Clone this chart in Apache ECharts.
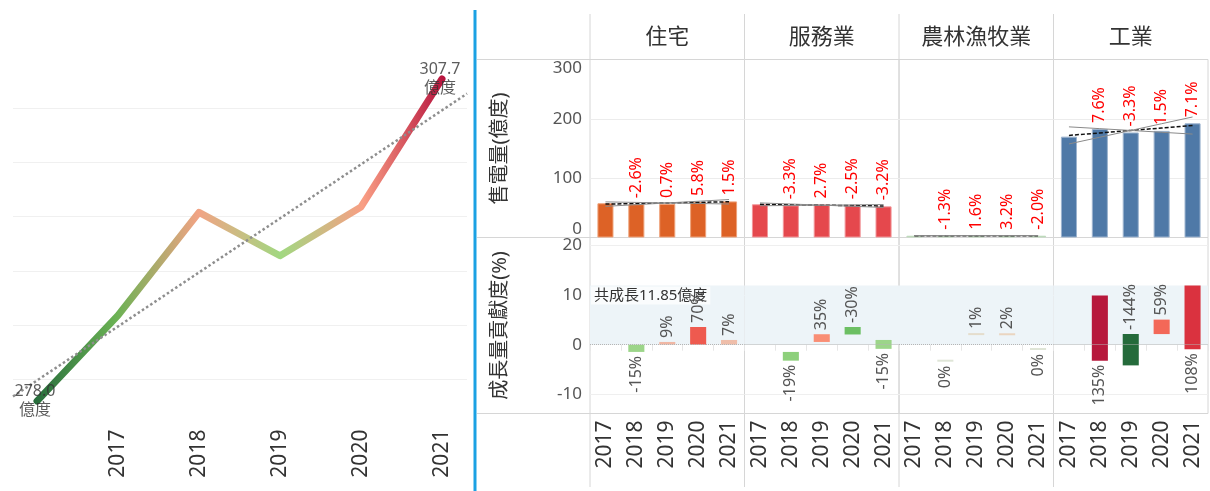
<!DOCTYPE html>
<html><head><meta charset="utf-8">
<script src="https://cdn.jsdelivr.net/npm/echarts@6/dist/echarts.min.js"></script>
<style>html,body{margin:0;padding:0;background:#fff}#c{width:1210px;height:491px}</style>
</head><body><div id="c"></div>
<script>
// ---------------- DATA ----------------
const lineYears = ['2016', '2017', '2018', '2019', '2020', '2021'];
const totalSales = [278.0, 285.9, 295.4, 291.4, 295.9, 307.7];

const sectors = ['住宅', '服務業', '農林漁牧業', '工業'];
const panelYears = ['2017', '2018', '2019', '2020', '2021'];

const residentialSales = [57.7, 56.2, 56.6, 59.9, 60.8];
const serviceSales = [56.0, 54.2, 55.6, 54.2, 52.5];
const farmSales = [3.0, 2.96, 3.01, 3.10, 3.04];
const industrySales = [170.0, 182.9, 177.0, 179.7, 192.4];

const residentialGrowth = [null, -2.6, 0.7, 5.8, 1.5];
const serviceGrowth = [null, -3.3, 2.7, -2.5, -3.2];
const farmGrowth = [null, -1.3, 1.6, 3.2, -2.0];
const industryGrowth = [null, 7.6, -3.3, 1.5, 7.1];

// growth amount (億度) of each sector, years 2018-2021
const residentialDelta = [-1.45, 0.55, 3.55, 0.95];
const serviceDelta = [-1.75, 1.55, -1.5, -1.78];
const farmDelta = [-0.02, 0.05, 0.08, -0.06];
const industryDelta = [13.1, -6.3, 2.9, 12.74];

// contribution labels (%)
const residentialPct = [-15, 9, 70, 7];
const servicePct = [-19, 35, -30, -15];
const farmPct = [0, 1, 2, 0];
const industryPct = [135, -144, 59, 108];

const totalGrowth = 11.85;

const salesTicks = [0, 100, 200, 300];
const lineTicks = [275, 280, 285, 290, 295, 300, 305, 310];

// ---------------- STYLE ----------------
const FONT = "'Noto Sans', 'Noto Sans CJK TC', sans-serif";
const sectorColors = ['#dd6226', '#e5484d', '#8cc08a', '#4f79a7'];
const sectorBorders = ['#eea27a', '#f2969a', '#c2dcc0', '#9db4cf'];
const lineColors = ['#256b3b', '#6bb254', '#f2a384', '#a1d881', '#f99e84', '#b5103c'];
const pctStops = [[-144, '#256b3b'], [-30, '#6cbf63'], [-17, '#93d37f'], [0, '#dfe5d7'], [2, '#ead5c0'],
  [8, '#f0b9a6'], [35, '#f98e75'], [65, '#f15f51'], [108, '#da323f'], [135, '#b7183c']];
const contribLabelSide = [
  ['below', 'above', 'above', 'above'],
  ['below', 'above', 'above', 'below'],
  ['below', 'above', 'above', 'below'],
  ['below', 'above', 'above', 'below']
];
const PANEL_L = 590, PANEL_W = 154.5, TOP_Y = 59.5, TOP_H = 178, BOT_Y = 237.5, BOT_H = 176;

const sectorSales = [residentialSales, serviceSales, farmSales, industrySales];
const sectorGrowth = [residentialGrowth, serviceGrowth, farmGrowth, industryGrowth];
const sectorDelta = [residentialDelta, serviceDelta, farmDelta, industryDelta];
const sectorPct = [residentialPct, servicePct, farmPct, industryPct];

function hex(c) { return [1, 3, 5].map(i => parseInt(c.substr(i, 2), 16)); }
function pctColor(p) {
  if (p <= pctStops[0][0]) return pctStops[0][1];
  for (let i = 1; i < pctStops.length; i++) {
    if (p <= pctStops[i][0]) {
      const [a, ca] = pctStops[i - 1], [b, cb] = pctStops[i];
      const t = (p - a) / (b - a), A = hex(ca), B = hex(cb);
      return 'rgb(' + A.map((v, k) => Math.round(v + (B[k] - v) * t)).join(',') + ')';
    }
  }
  return pctStops[pctStops.length - 1][1];
}
function regress(ys) {
  const n = ys.length, mx = (n - 1) / 2, my = ys.reduce((s, v) => s + v, 0) / n;
  let sxy = 0, sxx = 0;
  ys.forEach((y, i) => { sxy += (i - mx) * (y - my); sxx += (i - mx) * (i - mx); });
  const b = sxy / sxx;
  let ss = 0; ys.forEach((y, i) => { const r = y - (my + b * (i - mx)); ss += r * r; });
  const se = Math.sqrt(ss / (n - 2) / sxx);
  return { mx, my, b, se };
}

// ---------------- OPTION ----------------
const grids = [
  { left: 13, top: 54, width: 454, height: 379.6 },
  { left: 37, top: 54, width: 405, height: 379.6 }
];
const xAxes = [
  { gridIndex: 0, type: 'value', min: -0.3, max: 5.3, show: false },
  { gridIndex: 1, type: 'category', data: lineYears, boundaryGap: false,
    axisLine: { show: false }, axisTick: { show: false },
    axisLabel: { rotate: 90, fontSize: 21, color: '#333', margin: -4, fontFamily: FONT,
      interval: (i) => i > 0 } }
];
const yAxes = [
  { gridIndex: 0, type: 'value', min: lineTicks[0], max: lineTicks[lineTicks.length - 1],
    interval: lineTicks[1] - lineTicks[0],
    axisLabel: { show: false }, axisLine: { show: false }, axisTick: { show: false },
    splitLine: { show: true, showMinLine: false, showMaxLine: false, lineStyle: { color: '#f0f0f0' } } },
  { gridIndex: 1, type: 'value', min: lineTicks[0], max: lineTicks[lineTicks.length - 1],
    interval: lineTicks[1] - lineTicks[0], show: false, splitLine: { show: false } }
];

const lreg = regress(totalSales);
const series = [
  { type: 'line', xAxisIndex: 0, yAxisIndex: 0, silent: true, symbol: 'none', z: 4,
    lineStyle: { color: '#8e8e8e', width: 2.5, type: 'dotted' },
    data: [-0.3, 5.3].map(x => [x, lreg.my + lreg.b * (x - lreg.mx)]) },
  { type: 'line', xAxisIndex: 1, yAxisIndex: 1, symbol: 'none', z: 3,
    lineStyle: { width: 7, cap: 'round', join: 'round',
      color: { type: 'linear', x: 0, y: 0, x2: 1, y2: 0,
        colorStops: lineColors.map((c, i) => ({ offset: i / (lineColors.length - 1), color: c })) } },
    data: totalSales },
  { type: 'scatter', xAxisIndex: 1, yAxisIndex: 1, symbolSize: 1, z: 5,
    itemStyle: { color: 'transparent' },
    label: { show: true, position: 'inside', color: '#333', fontSize: 16, lineHeight: 19, fontFamily: FONT,
      offset: [-2, 0],
      formatter: p => p.value[1].toFixed(1) + '\n億度' },
    data: [[0, totalSales[0]], [totalSales.length - 1, totalSales[totalSales.length - 1]]] }
];

sectors.forEach((name, i) => {
  const left = PANEL_L + i * PANEL_W;
  grids.push({ left, top: TOP_Y, width: PANEL_W, height: TOP_H, show: true, borderColor: '#d6d6d6', borderWidth: 1 });
});
sectors.forEach((name, i) => {
  const left = PANEL_L + i * PANEL_W;
  grids.push({ left, top: BOT_Y, width: PANEL_W, height: BOT_H, show: true, borderColor: '#d6d6d6', borderWidth: 1 });
});

sectors.forEach((name, i) => {
  const gi = 2 + i;
  xAxes.push({ gridIndex: gi, type: 'category', data: panelYears, position: 'top',
    axisLine: { show: false }, axisTick: { show: false }, axisLabel: { show: false },
    name, nameLocation: 'middle', nameGap: 11,
    nameTextStyle: { fontSize: 22, color: '#333', fontFamily: FONT } });
  yAxes.push({ gridIndex: gi, type: 'value', min: salesTicks[0], max: salesTicks[salesTicks.length - 1],
    interval: salesTicks[1] - salesTicks[0],
    axisLine: { show: false }, axisTick: { show: false },
    axisLabel: { show: i === 0, fontSize: 17, color: '#555', margin: 8, fontFamily: FONT,
      verticalAlignMinLabel: 'bottom', verticalAlignMaxLabel: 'top' },
    splitLine: { show: true, showMinLine: false, showMaxLine: false, lineStyle: { color: '#ececec' } },
    name: i === 0 ? '售電量(億度)' : '', nameLocation: 'middle', nameGap: 80,
    nameTextStyle: { fontSize: 20, color: '#333', fontFamily: FONT } });

  const growth = sectorGrowth[i];
  series.push({ type: 'bar', xAxisIndex: gi, yAxisIndex: gi, barWidth: '52%', silent: true,
    itemStyle: { color: sectorColors[i], borderColor: sectorBorders[i], borderWidth: 1 },
    label: { show: true, position: 'top', rotate: 90, align: 'left', verticalAlign: 'middle', distance: 6,
      color: '#ff0000', fontSize: 16, fontFamily: FONT,
      formatter: p => growth[p.dataIndex] == null ? '' : growth[p.dataIndex].toFixed(1) + '%' },
    data: sectorSales[i] });

  const r = regress(sectorSales[i]);
  const t = 4.0;
  [[r.b, '#111', [4, 2], 1.5], [r.b + t * r.se, '#8a8a8a', 'solid', 1], [r.b - t * r.se, '#8a8a8a', 'solid', 1]]
    .forEach(([slope, color, type, width]) => {
      series.push({ type: 'line', xAxisIndex: gi, yAxisIndex: gi, symbol: 'none', silent: true, z: 6,
        lineStyle: { color, type, width },
        data: panelYears.map((y, k) => r.my + slope * (k - r.mx)) });
    });
});

sectors.forEach((name, i) => {
  const gi = 6 + i;
  xAxes.push({ gridIndex: gi, type: 'category', data: panelYears, position: 'bottom',
    axisLine: { show: false },
    axisTick: { show: true, length: 6, lineStyle: { color: '#e6e6e6' } },
    axisLabel: { rotate: 90, fontSize: 21, color: '#333', margin: 7, fontFamily: FONT } });
  yAxes.push({ gridIndex: gi, type: 'value', min: -13.8, max: 21.5, splitNumber: 4,
    axisLine: { show: false }, axisTick: { show: false },
    axisLabel: { show: i === 0, fontSize: 17, color: '#555', margin: 8, fontFamily: FONT,
      showMinLabel: false, showMaxLabel: false },
    splitLine: { show: true, showMinLine: false, showMaxLine: false, lineStyle: { color: '#efefef' } },
    name: i === 0 ? '成長量貢獻度(%)' : '', nameLocation: 'middle', nameGap: 80,
    nameTextStyle: { fontSize: 20, color: '#333', fontFamily: FONT } });

  const data = sectorDelta[i].map((d, k) => {
    let start = 0;
    for (let j = 0; j < i; j++) start += sectorDelta[j][k];
    return [k + 1, start, start + d, sectorPct[i][k]];
  });
  const sides = contribLabelSide[i];
  series.push({ type: 'custom', xAxisIndex: gi, yAxisIndex: gi, silent: true, z: 3,
    encode: { x: 0, y: [1, 2] },
    renderItem: (params, api) => {
      const k = api.value(0), s = api.value(1), e = api.value(2), pct = api.value(3);
      const hi = api.coord([k, Math.max(s, e)]), lo = api.coord([k, Math.min(s, e)]);
      const bw = api.size([1, 0])[0] * 0.52;
      let top = hi[1], h = lo[1] - hi[1];
      if (h < 2) { top -= (2 - h) / 2; h = 2; }
      const side = sides[params.dataIndex];
      const ty = side === 'above' ? top - 4 : top + h + 4;
      return { type: 'group', children: [
        { type: 'rect', shape: { x: hi[0] - bw / 2, y: top, width: bw, height: h }, style: { fill: pctColor(pct) } },
        { type: 'text', x: hi[0], y: ty, rotation: Math.PI / 2,
          style: { text: pct + '%', fill: '#555', fontSize: 16, fontFamily: FONT,
            align: side === 'above' ? 'left' : 'right', verticalAlign: 'middle' } }
      ] };
    },
    markArea: { silent: true, itemStyle: { color: '#edf4f8' },
      label: i === 0 ? { show: true, position: 'insideTopLeft', distance: 1, color: '#333', fontSize: 15,
        fontFamily: FONT, backgroundColor: 'rgba(255,255,255,0.7)', padding: [2, 3, 1, 3] } : { show: false },
      data: [[{ yAxis: 0, name: '共成長' + totalGrowth + '億度' }, { yAxis: totalGrowth }]] },
    markLine: { silent: true, symbol: 'none', label: { show: false },
      lineStyle: { type: 'dotted', color: '#b5b5b5', width: 1 }, data: [{ yAxis: 0 }] },
    data });
});

// structural lines of the table layout
const graphics = [
  { type: 'line', shape: { x1: 475, y1: 10, x2: 475, y2: 491 }, style: { stroke: '#1ba1e3', lineWidth: 3 } }
];
[TOP_Y, BOT_Y, BOT_Y + BOT_H].forEach(y => graphics.push({ type: 'line', silent: true,
  shape: { x1: 477, y1: y, x2: PANEL_L, y2: y }, style: { stroke: '#d6d6d6', lineWidth: 1 } }));
sectors.forEach((s, i) => {
  const x = PANEL_L + i * PANEL_W;
  graphics.push({ type: 'line', silent: true, shape: { x1: x, y1: 14, x2: x, y2: TOP_Y }, style: { stroke: '#d6d6d6', lineWidth: 1 } });
  graphics.push({ type: 'line', silent: true, shape: { x1: x, y1: BOT_Y + BOT_H, x2: x, y2: 487 }, style: { stroke: '#d6d6d6', lineWidth: 1 } });
});

const option = {
  animation: false,
  textStyle: { fontFamily: FONT },
  grid: grids,
  xAxis: xAxes,
  yAxis: yAxes,
  graphic: graphics,
  series
};
const chart = echarts.init(document.getElementById('c'));
chart.setOption(option);
</script></body></html>
